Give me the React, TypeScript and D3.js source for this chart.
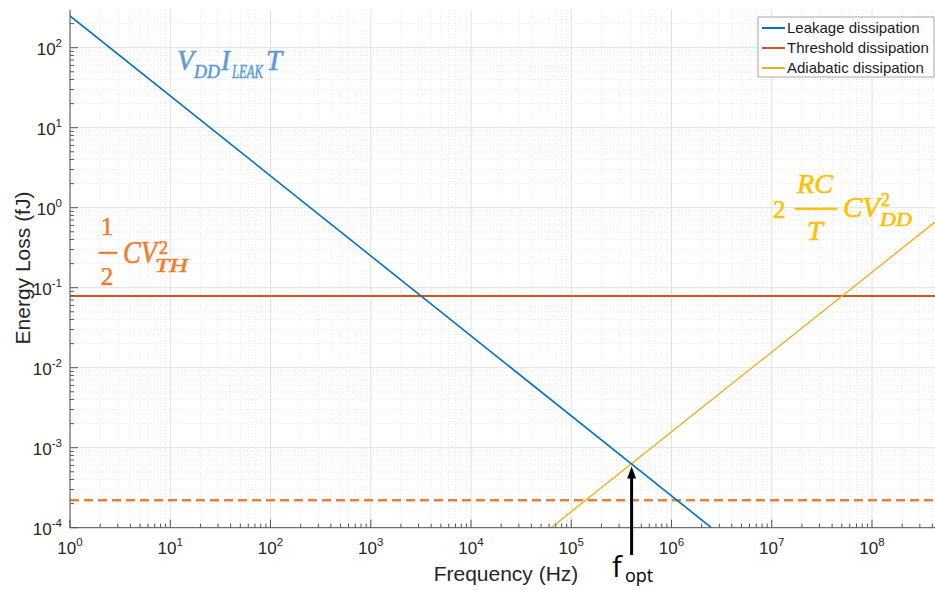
import React from 'react';
import * as d3 from 'd3';

const W = 935;
const H = 590;

const seriesNames = ['Leakage dissipation', 'Threshold dissipation', 'Adiabatic dissipation'];
const seriesColors = ['#0072BD', '#D95319', '#EDB120'];

const leakFreq = [1, 2.5e6];
const leakEnergy = [250, 1e-4];
const threshFreq = [1, 4.3e8];
const threshEnergy = [0.079, 0.079];
const threshLowFreq = [1, 4.3e8];
const threshLowEnergy = [2.2e-4, 2.2e-4];
const adiaFreq = [6.3e4, 4.3e8];
const adiaEnergy = [1e-4, 0.67];

const xTickExps = [0, 1, 2, 3, 4, 5, 6, 7, 8];
const yTickExps = [-4, -3, -2, -1, 0, 1, 2];

const fOpt = 4.0e5;
const fOptEnergy = 6.0e-4;

const PL = 70, PR = 935, PT = 10, PB = 527.7;

export default function App() {
  const x = d3.scaleLog().domain([1, 1e8]).range([70, 872]);
  const y = d3.scaleLog().domain([1e-4, 100]).range([527.7, 47.7]);
  const xMax = x.invert(PR);
  const yMax = y.invert(PT);
  const xAll = d3.scaleLog().domain([1, xMax]).ticks();
  const yAll = d3.scaleLog().domain([1e-4, yMax]).ticks();
  const isMajor = (v: number) => Math.abs(Math.log10(v) - Math.round(Math.log10(v))) < 1e-9;

  const line = d3.line<[number, number]>().x(d => x(d[0])).y(d => y(d[1]));
  const mk = (f: number[], e: number[]) => line(f.map((v, i) => [v, e[i]] as [number, number])) || '';

  const tickFont = "'Liberation Sans', Arial, sans-serif";
  const mathFont = "'Liberation Serif', 'DejaVu Serif', serif";
  const ax = x(fOpt);
  const tipY = y(fOptEnergy) + 1;
  const LA = 'spacingAndGlyphs';

  return (
    <svg width={W} height={H} style={{ position: 'absolute', left: 0, top: 0, background: '#fff' }}>
      <defs>
        <clipPath id="plot">
          <rect x={PL} y={PT} width={PR - PL} height={PB - PT} />
        </clipPath>
      </defs>
      <rect x={0} y={0} width={W} height={H} fill="#fff" />
      {/* minor grid */}
      <g stroke="#e2e2e2" strokeWidth={0.8} strokeDasharray="1,2">
        {xAll.filter(v => !isMajor(v)).map((v, i) => (
          <line key={'xm' + i} x1={x(v)} x2={x(v)} y1={PT} y2={PB} />
        ))}
        {yAll.filter(v => !isMajor(v)).map((v, i) => (
          <line key={'ym' + i} x1={PL} x2={PR} y1={y(v)} y2={y(v)} />
        ))}
      </g>
      {/* major grid */}
      <g stroke="#e0e0e0" strokeWidth={1}>
        {xAll.filter(isMajor).map((v, i) => (
          <line key={'xM' + i} x1={x(v)} x2={x(v)} y1={PT} y2={PB} />
        ))}
        {yAll.filter(isMajor).map((v, i) => (
          <line key={'yM' + i} x1={PL} x2={PR} y1={y(v)} y2={y(v)} />
        ))}
      </g>
      {/* series */}
      <g clipPath="url(#plot)" fill="none">
        <path d={mk(threshLowFreq, threshLowEnergy)} stroke="#E3823D" strokeWidth={2.6} strokeDasharray="9,5" />
        <path d={mk(threshFreq, threshEnergy)} stroke={seriesColors[1]} strokeWidth={2} />
        <path d={mk(adiaFreq, adiaEnergy)} stroke={seriesColors[2]} strokeWidth={1.4} />
        <path d={mk(leakFreq, leakEnergy)} stroke={seriesColors[0]} strokeWidth={1.6} />
      </g>
      {/* axes */}
      <g stroke="#555" strokeWidth={1}>
        <line x1={PL} x2={PR} y1={PB} y2={PB} />
        <line x1={PL} x2={PL} y1={PT} y2={PB} />
        {xAll.map((v, i) => (
          <line key={'xt' + i} x1={x(v)} x2={x(v)} y1={PB} y2={PB - (isMajor(v) ? 8 : 4)} />
        ))}
        {yAll.map((v, i) => (
          <line key={'yt' + i} x1={PL} x2={PL + (isMajor(v) ? 8 : 4)} y1={y(v)} y2={y(v)} />
        ))}
      </g>
      {/* tick labels */}
      <g fill="#262626" fontFamily={tickFont}>
        {xTickExps.map(e => (
          <text key={'xl' + e} x={x(Math.pow(10, e))} y={554} textAnchor="middle" fontSize={17}>
            10<tspan dy={-8} fontSize={11.5}>{e}</tspan>
          </text>
        ))}
        {yTickExps.map(e => (
          <text key={'yl' + e} x={62} y={y(Math.pow(10, e)) + 7} textAnchor="end" fontSize={17}>
            10<tspan dy={-8} fontSize={11.5}>{e}</tspan>
          </text>
        ))}
        <text x={506} y={581} textAnchor="middle" fontSize={21}>Frequency (Hz)</text>
        <text transform={`translate(30,268) rotate(-90)`} textAnchor="middle" fontSize={21}>Energy Loss (fJ)</text>
      </g>
      {/* legend */}
      <g fontFamily={tickFont}>
        <rect x={758} y={17} width={176} height={60} fill="#fff" stroke="#a8a8a8" strokeWidth={1} />
        {seriesNames.map((n, i) => (
          <g key={n}>
            <line x1={762} x2={785} y1={28 + i * 20} y2={28 + i * 20} stroke={seriesColors[i]} strokeWidth={2} />
            <text x={787} y={33 + i * 20} fontSize={15} fill="#1a1a1a">{n}</text>
          </g>
        ))}
      </g>
      {/* annotations: leakage */}
      <g fill="#5B9BD5" stroke="#5B9BD5" strokeWidth={0.6} fontFamily={mathFont} fontStyle="italic">
        <text x={177} y={70} fontSize={29} textLength={17} lengthAdjust={LA}>V</text>
        <text x={194} y={78} fontSize={19} textLength={26} lengthAdjust={LA}>DD</text>
        <text x={221} y={70} fontSize={29} textLength={9} lengthAdjust={LA}>I</text>
        <text x={232} y={78} fontSize={19} textLength={31} lengthAdjust={LA}>LEAK</text>
        <text x={266} y={70} fontSize={29} textLength={16} lengthAdjust={LA}>T</text>
      </g>
      {/* annotations: threshold */}
      <g fill="#ED7D31" stroke="#ED7D31" strokeWidth={0.6} fontFamily={mathFont}>
        <text x={107} y={235} fontSize={25} textAnchor="middle">1</text>
        <rect x={99} y={252} width={18} height={1.8} />
        <text x={107} y={285} fontSize={25} textAnchor="middle">2</text>
        <text x={123} y={263} fontSize={31} fontStyle="italic" textLength={34} lengthAdjust={LA}>CV</text>
        <text x={159} y={254} fontSize={18}>2</text>
        <text x={155} y={272} fontSize={18} fontStyle="italic" textLength={33} lengthAdjust={LA}>TH</text>
      </g>
      {/* annotations: adiabatic */}
      <g fill="#FFC000" stroke="#FFC000" strokeWidth={0.6} fontFamily={mathFont}>
        <text x={773} y={218} fontSize={25}>2</text>
        <text x={797} y={193} fontSize={28} fontStyle="italic" textLength={36} lengthAdjust={LA}>RC</text>
        <rect x={795} y={208} width={42} height={1.8} />
        <text x={807} y={240} fontSize={28} fontStyle="italic" textLength={16} lengthAdjust={LA}>T</text>
        <text x={843} y={217} fontSize={29} fontStyle="italic" textLength={37} lengthAdjust={LA}>CV</text>
        <text x={881} y={206} fontSize={18}>2</text>
        <text x={880} y={226} fontSize={18} fontStyle="italic" textLength={32} lengthAdjust={LA}>DD</text>
      </g>
      {/* f_opt arrow */}
      <g>
        <line x1={ax} x2={ax} y1={tipY + 10} y2={555} stroke="#000" strokeWidth={3} />
        <polygon points={`${ax},${tipY} ${ax - 4.5},${tipY + 12} ${ax + 4.5},${tipY + 12}`} fill="#000" />
        <text x={612} y={577} fontSize={29} fontFamily="'Open Sans', sans-serif" fill="#000">f</text>
        <text x={625} y={582} fontSize={18} fontFamily="'Open Sans', sans-serif" fill="#000">opt</text>
      </g>
    </svg>
  );
}
